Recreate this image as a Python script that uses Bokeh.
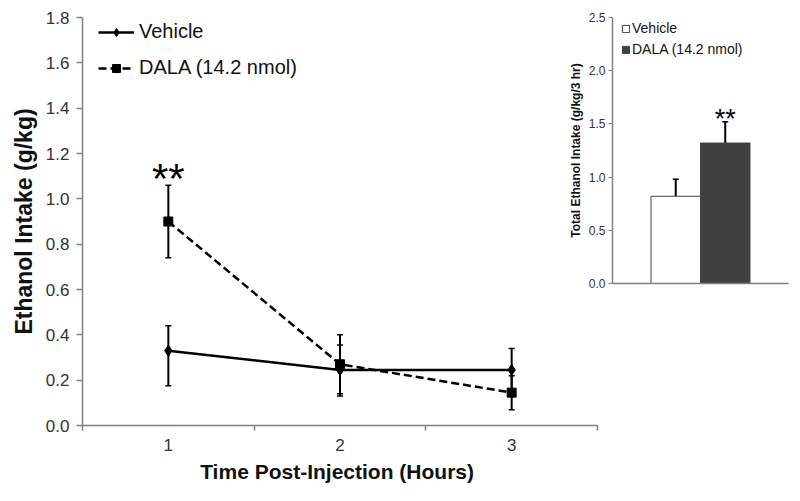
from bokeh.plotting import figure
from bokeh.models import (ColumnDataSource, Whisker, TeeHead, Legend, LegendItem,
                          FixedTicker, NumeralTickFormatter, Range1d, FactorRange)
from bokeh.transform import factor_cmap
from bokeh.embed import file_html
from bokeh.resources import INLINE
from bokeh.core.properties import value

# ---------------- data ----------------
hours = [1, 2, 3]
vehicle_mean = [0.33, 0.245, 0.245]
vehicle_lower = [0.175, 0.13, 0.15]
vehicle_upper = [0.44, 0.355, 0.34]
dala_mean = [0.90, 0.27, 0.145]
dala_lower = [0.74, 0.14, 0.07]
dala_upper = [1.06, 0.40, 0.22]
main_yticks = [0.0, 0.2, 0.4, 0.6, 0.8, 1.0, 1.2, 1.4, 1.6, 1.8]
main_xticks = [1, 2, 3]
main_xbounds = [0.5, 1.5, 2.5, 3.5]
sig_hour = [1]
sig_level = [1.09]
sig_text = ["**"]

groups = ["Vehicle", "DALA (14.2 nmol)"]
total_mean = [0.82, 1.32]
total_lower = [0.67, 1.12]
total_upper = [0.98, 1.52]
inset_yticks = [0.0, 0.5, 1.0, 1.5, 2.0, 2.5]
inset_sig_group = ["DALA (14.2 nmol)"]
inset_sig_level = [1.55]
inset_sig_text = ["**"]

FONT = "Liberation Sans"
AXIS_GRAY = "#7f7f7f"
LABEL_GRAY = "#333333"
DARK = "#404040"

# ---------------- main figure ----------------
p = figure(frame_width=515, frame_height=408,
           x_range=Range1d(0.5, 3.5), y_range=Range1d(0, 1.8),
           output_backend="svg", toolbar_location=None, title=None,
           min_border_left=82, min_border_right=9,
           min_border_top=17, min_border_bottom=66)
p.outline_line_color = None
p.xgrid.visible = False
p.ygrid.visible = False
p.background_fill_color = "white"
p.border_fill_color = "white"

xa = p.xaxis[0]
xa.ticker = FixedTicker(ticks=main_xticks, minor_ticks=main_xbounds)
xa.major_tick_in = 0
xa.major_tick_out = 0
xa.minor_tick_in = 0
xa.minor_tick_out = 5
xa.minor_tick_line_color = AXIS_GRAY
xa.minor_tick_line_width = 1.5
xa.axis_line_color = AXIS_GRAY
xa.axis_line_width = 1.5
xa.major_label_text_font = FONT
xa.major_label_text_font_size = "17px"
xa.major_label_text_color = LABEL_GRAY
xa.major_label_standoff = 8
xa.axis_label = "Time Post-Injection  (Hours)"
xa.axis_label_text_font = FONT
xa.axis_label_text_font_style = "bold"
xa.axis_label_text_font_size = "21px"
xa.axis_label_text_color = "#111111"
xa.axis_label_standoff = 6

ya = p.yaxis[0]
ya.ticker = FixedTicker(ticks=main_yticks)
ya.formatter = NumeralTickFormatter(format="0.0")
ya.major_tick_in = 0
ya.major_tick_out = 6
ya.major_tick_line_color = AXIS_GRAY
ya.major_tick_line_width = 1.5
ya.minor_tick_line_color = None
ya.axis_line_color = AXIS_GRAY
ya.axis_line_width = 1.5
ya.major_label_text_font = FONT
ya.major_label_text_font_size = "17px"
ya.major_label_text_color = LABEL_GRAY
ya.major_label_standoff = 7
ya.axis_label = "Ethanol Intake (g/kg)"
ya.axis_label_text_font = FONT
ya.axis_label_text_font_style = "bold"
ya.axis_label_text_font_size = "23px"
ya.axis_label_text_color = "#111111"
ya.axis_label_standoff = 6

veh_src = ColumnDataSource(dict(x=hours, y=vehicle_mean, lo=vehicle_lower, hi=vehicle_upper))
dala_src = ColumnDataSource(dict(x=hours, y=dala_mean, lo=dala_lower, hi=dala_upper))

for src in (veh_src, dala_src):
    w = Whisker(base="x", lower="lo", upper="hi", source=src, dimension="height",
                line_color="black", line_width=2,
                upper_head=TeeHead(size=6, line_width=1.5, line_color="black"),
                lower_head=TeeHead(size=6, line_width=1.5, line_color="black"))
    p.add_layout(w)

veh_line = p.line("x", "y", source=veh_src, line_color="black", line_width=2.5)
veh_mark = p.scatter("x", "y", source=veh_src, marker="diamond", size=11,
                     fill_color="black", line_color="black")
dala_line = p.line("x", "y", source=dala_src, line_color="black", line_width=2.5,
                   line_dash="8 4")
dala_mark = p.scatter("x", "y", source=dala_src, marker="square", size=9,
                      fill_color="black", line_color="black")

p.text(x=sig_hour, y=sig_level, text=sig_text, text_font=value(FONT),
       text_font_size="42px", text_align="center", text_baseline="middle",
       text_color="black")

leg = Legend(items=[LegendItem(label="Vehicle", renderers=[veh_line, veh_mark]),
                    LegendItem(label="DALA (14.2 nmol)", renderers=[dala_line, dala_mark])],
             location=(16, 346))
leg.background_fill_alpha = 0
leg.border_line_color = None
leg.padding = 0
leg.margin = 0
leg.spacing = 13
leg.glyph_width = 36
leg.glyph_height = 20
leg.label_height = 20
leg.label_standoff = 5
leg.label_text_font = FONT
leg.label_text_font_size = "20px"
leg.label_text_color = "#111111"
p.add_layout(leg)

# ---------------- inset figure ----------------
p2 = figure(frame_width=176, frame_height=266,
            x_range=FactorRange(factors=groups, range_padding=0.778,
                                range_padding_units="absolute"),
            y_range=Range1d(0, 2.5),
            output_backend="svg", toolbar_location=None, title=None,
            min_border_left=52, min_border_right=8,
            min_border_top=12, min_border_bottom=10)
p2.outline_line_color = None
p2.xgrid.visible = False
p2.ygrid.visible = False
p2.background_fill_alpha = 0
p2.border_fill_alpha = 0
p2.styles = {"position": "absolute", "left": "560px", "top": "5px"}

ix = p2.xaxis[0]
ix.major_tick_line_color = None
ix.minor_tick_line_color = None
ix.major_label_text_font_size = "0px"
ix.major_label_text_color = None
ix.axis_line_color = AXIS_GRAY
ix.axis_line_width = 1.5

iy = p2.yaxis[0]
iy.ticker = FixedTicker(ticks=inset_yticks)
iy.formatter = NumeralTickFormatter(format="0.0")
iy.major_tick_in = 0
iy.major_tick_out = 4
iy.major_tick_line_color = AXIS_GRAY
iy.minor_tick_line_color = None
iy.axis_line_color = AXIS_GRAY
iy.axis_line_width = 1.5
iy.major_label_text_font = FONT
iy.major_label_text_font_size = "12px"
iy.major_label_text_color = LABEL_GRAY
iy.major_label_standoff = 3
iy.axis_label = "Total Ethanol Intake (g/kg/3 hr)"
iy.axis_label_text_font = FONT
iy.axis_label_text_font_style = "bold"
iy.axis_label_text_font_size = "12px"
iy.axis_label_text_color = "#111111"
iy.axis_label_standoff = 3

tot_src = ColumnDataSource(dict(g=groups, m=total_mean, lo=total_lower, hi=total_upper))
bars = p2.vbar(x="g", top="m", source=tot_src, width=1.0,
               fill_color=factor_cmap("g", palette=["white", DARK], factors=groups),
               line_color=DARK, line_width=1)
p2.add_layout(Whisker(base="g", lower="lo", upper="hi", source=tot_src,
                      dimension="height", line_color="black", line_width=2,
                      upper_head=TeeHead(size=6, line_width=1.5, line_color="black"),
                      lower_head=TeeHead(size=6, line_width=1.5, line_color="black")))
p2.text(x=inset_sig_group, y=inset_sig_level, text=inset_sig_text,
        text_font=value(FONT), text_font_size="27px", text_align="center",
        text_baseline="middle", text_color="black")

leg2 = Legend(items=[LegendItem(label=groups[0], renderers=[bars], index=0),
                     LegendItem(label=groups[1], renderers=[bars], index=1)],
              location=(9, 226))
leg2.background_fill_alpha = 0
leg2.border_line_color = None
leg2.padding = 0
leg2.margin = 0
leg2.spacing = 5
leg2.glyph_width = 9
leg2.glyph_height = 9
leg2.label_height = 14
leg2.label_standoff = 2
leg2.label_text_font = FONT
leg2.label_text_font_size = "14px"
leg2.label_text_color = "#111111"
p2.add_layout(leg2)

open("out.html", "w").write(file_html([p, p2], INLINE))
